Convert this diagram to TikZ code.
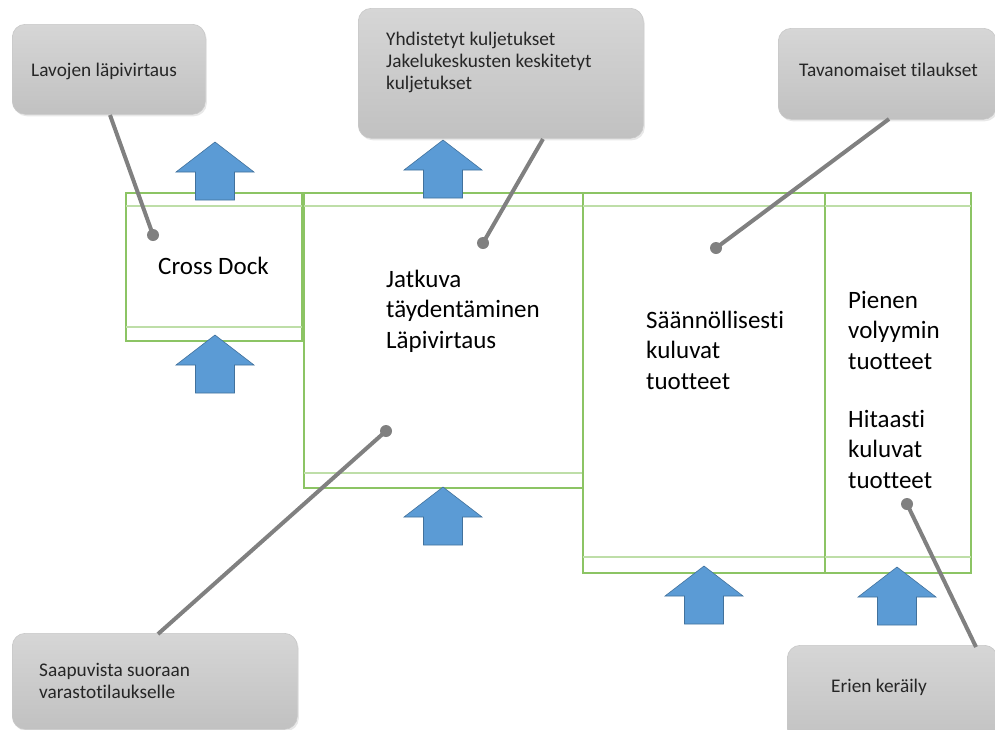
\documentclass[tikz,border=0pt]{standalone}
\usepackage{fontspec}
\setmainfont{Carlito}[Ligatures=NoCommon]
\usetikzlibrary{shadows}

\definecolor{zoneline}{RGB}{140,196,100}
\definecolor{zoneinner}{RGB}{190,222,168}
\definecolor{flowfill}{RGB}{91,155,213}
\definecolor{flowedge}{RGB}{65,113,156}
\definecolor{calltop}{RGB}{214,214,214}
\definecolor{callbot}{RGB}{193,193,193}
\definecolor{calledge}{RGB}{200,200,200}
\definecolor{leader}{RGB}{128,128,128}

\tikzset{
  zone/.style={draw=zoneline, line width=1.4pt},
  zonesep/.style={draw=zoneinner, line width=1.2pt},
  callout/.style={draw=calledge, line width=0.6pt, rounded corners=13pt,
    top color=calltop, bottom color=callbot, anchor=north west, inner sep=0pt,
    drop shadow={opacity=0.18, shadow xshift=1.5pt, shadow yshift=-2pt}},
  % multi-line nodes: the base anchor sits on the last line's baseline
  calltext/.style={anchor=base west, align=left, inner sep=0pt,
    font=\fontsize{19.3pt}{21.7pt}\selectfont, text=black!85},
  zonetext/.style={anchor=base west, align=left, inner sep=0pt,
    font=\fontsize{25pt}{30.5pt}\selectfont, text=black},
  leaderline/.style={draw=leader, line width=4pt},
  leaderdot/.style={circle, fill=leader, minimum size=12pt, inner sep=0pt},
  flowarrow/.pic={
    \draw[fill=flowfill, draw=flowedge, line width=0.6pt, line join=miter]
      (0,0) -- (39,30) -- (19.5,30) -- (19.5,58) -- (-19.5,58)
      -- (-19.5,30) -- (-39,30) -- cycle;
  }
}

\begin{document}
\begin{tikzpicture}[x=1pt, y=-1pt]
  \useasboundingbox (0,0) rectangle (995,729);

  % storage zones
  \draw[zone] (126,193) rectangle (302,341);
  \draw[zonesep] (126,206) -- (302,206) (126,327) -- (302,327);
  \draw[zone] (304,193) rectangle (583,488);
  \draw[zonesep] (304,206) -- (583,206) (304,473) -- (583,473);
  \draw[zone] (583,193) rectangle (825,573);
  \draw[zonesep] (583,206) -- (825,206) (583,557) -- (825,557);
  \draw[zone] (825,193) rectangle (971,573);
  \draw[zonesep] (825,206) -- (971,206) (825,557) -- (971,557);

  % zone labels
  \node[zonetext] (crossdock) at (158,274) {Cross Dock};
  \node[zonetext] (jatkuva) at (386,348) {Jatkuva\\täydentäminen\\Läpivirtaus};
  \node[zonetext] (saannol) at (646,389) {Säännöllisesti\\kuluvat\\tuotteet};
  \node[zonetext] (pienen) at (848,369) {Pienen\\volyymin\\tuotteet};
  \node[zonetext] (hitaasti) at (848,488) {Hitaasti\\kuluvat\\tuotteet};

  % goods flow arrows
  \pic at (215,142) {flowarrow};
  \pic at (215,335) {flowarrow};
  \pic at (443,140) {flowarrow};
  \pic at (443,487) {flowarrow};
  \pic at (704,566) {flowarrow};
  \pic at (897,567) {flowarrow};

  % callouts
  \node[callout, minimum width=193pt, minimum height=90pt] (lavbox) at (12,24) {};
  \node[calltext] (lavtext) at (31,76.5) {Lavojen läpivirtaus};

  \node[callout, minimum width=285pt, minimum height=130pt] (yhdbox) at (358,8) {};
  \node[calltext] (yhdtext) at (386,89.3) {Yhdistetyt kuljetukset\\Jakelukeskusten keskitetyt\\kuljetukset};

  \node[callout, minimum width=218pt, minimum height=91pt] (tavbox) at (778,28) {};
  \node[calltext] (tavtext) at (799,76.5) {Tavanomaiset tilaukset};

  \node[callout, minimum width=285pt, minimum height=96pt] (saabox) at (12,633) {};
  \node[calltext] (saatext) at (39,698) {Saapuvista suoraan\\varastotilaukselle};

  \node[callout, minimum width=210pt, minimum height=100pt] (eribox) at (787,645) {};
  \node[calltext] (eritext) at (831,692) {Erien keräily};

  % leader lines
  \node[leaderdot] (lavdot) at (153,235) {};
  \node[leaderdot] (yhddot) at (483,243) {};
  \node[leaderdot] (tavdot) at (716,248) {};
  \node[leaderdot] (saadot) at (386,431) {};
  \node[leaderdot] (eridot) at (907,504) {};
  \coordinate (lavfoot) at (110,115);
  \coordinate (yhdfoot) at (543,139);
  \coordinate (tavfoot) at (889,119);
  \coordinate (saafoot) at (158,634);
  \coordinate (erifoot) at (976,647);
  \draw[leaderline] (lavfoot) -- (lavdot.center);
  \draw[leaderline] (yhdfoot) -- (yhddot.center);
  \draw[leaderline] (tavfoot) -- (tavdot.center);
  \draw[leaderline] (saafoot) -- (saadot.center);
  \draw[leaderline] (erifoot) -- (eridot.center);
\end{tikzpicture}
\end{document}
